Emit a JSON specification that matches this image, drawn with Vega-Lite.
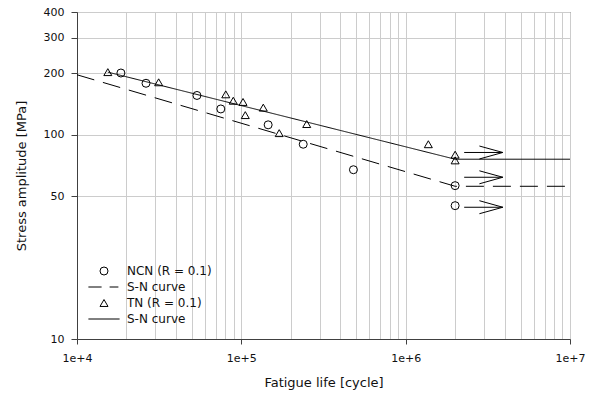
{
  "$schema": "https://vega.github.io/schema/vega-lite/v6.json",
  "width": 493,
  "height": 327,
  "autosize": "none",
  "padding": {"left": 77, "top": 12, "right": 24, "bottom": 60},
  "background": "white",
  "config": {
    "font": "DejaVu Sans",
    "view": {"stroke": "#404040", "strokeWidth": 1},
    "axis": {
      "labelFont": "DejaVu Sans", "labelFontSize": 11, "labelColor": "#111111",
      "titleFont": "DejaVu Sans", "titleFontSize": 13, "titleFontWeight": "normal", "titleColor": "#111111",
      "domainColor": "#404040", "tickColor": "#404040",
      "gridColor": "#cccccc", "gridOpacity": 1, "gridWidth": 1,
      "labelFlush": false, "labelOverlap": false
    }
  },
  "datasets": {
    "points": [
      {"series": "NCN (R = 0.1)", "x": 18500, "y": 201},
      {"series": "NCN (R = 0.1)", "x": 26300, "y": 179},
      {"series": "NCN (R = 0.1)", "x": 53700, "y": 156},
      {"series": "NCN (R = 0.1)", "x": 75000, "y": 134},
      {"series": "NCN (R = 0.1)", "x": 145600, "y": 112},
      {"series": "NCN (R = 0.1)", "x": 238000, "y": 90},
      {"series": "NCN (R = 0.1)", "x": 481000, "y": 67.5},
      {"series": "NCN (R = 0.1)", "x": 2000000, "y": 56.4},
      {"series": "NCN (R = 0.1)", "x": 2000000, "y": 45},
      {"series": "TN (R = 0.1)", "x": 15400, "y": 203},
      {"series": "TN (R = 0.1)", "x": 31400, "y": 181},
      {"series": "TN (R = 0.1)", "x": 80400, "y": 158},
      {"series": "TN (R = 0.1)", "x": 89300, "y": 147},
      {"series": "TN (R = 0.1)", "x": 102400, "y": 145},
      {"series": "TN (R = 0.1)", "x": 105700, "y": 125},
      {"series": "TN (R = 0.1)", "x": 136000, "y": 136},
      {"series": "TN (R = 0.1)", "x": 170000, "y": 102},
      {"series": "TN (R = 0.1)", "x": 250000, "y": 113},
      {"series": "TN (R = 0.1)", "x": 1374000, "y": 90},
      {"series": "TN (R = 0.1)", "x": 2000000, "y": 80},
      {"series": "TN (R = 0.1)", "x": 2000000, "y": 75}
    ],
    "curves": [
      {"curve": "NCN", "x": 10000, "y": 197},
      {"curve": "NCN", "x": 2000000, "y": 56},
      {"curve": "NCN", "x": 10000000, "y": 56},
      {"curve": "TN", "x": 15400, "y": 203},
      {"curve": "TN", "x": 2000000, "y": 76},
      {"curve": "TN", "x": 10000000, "y": 76}
    ],
    "arrows": [
      {"x": 2270000, "y": 82, "x2": 3900000, "y2": 82},
      {"x": 2810000, "y": 88.2, "x2": 3900000, "y2": 82},
      {"x": 2810000, "y": 76.2, "x2": 3900000, "y2": 82},
      {"x": 2270000, "y": 62, "x2": 3900000, "y2": 62},
      {"x": 2810000, "y": 66.7, "x2": 3900000, "y2": 62},
      {"x": 2810000, "y": 57.6, "x2": 3900000, "y2": 62},
      {"x": 2270000, "y": 44.2, "x2": 3900000, "y2": 44.2},
      {"x": 2810000, "y": 47.6, "x2": 3900000, "y2": 44.2},
      {"x": 2810000, "y": 41.1, "x2": 3900000, "y2": 44.2}
    ]
  },
  "encoding": {
    "x": {
      "field": "x", "type": "quantitative",
      "scale": {"type": "log", "domain": [10000, 10000000], "nice": false},
      "axis": {
        "title": "Fatigue life [cycle]",
        "values": [10000, 20000, 30000, 40000, 50000, 60000, 70000, 80000, 90000, 100000, 200000, 300000, 400000, 500000, 600000, 700000, 800000, 900000, 1000000, 2000000, 3000000, 4000000, 5000000, 6000000, 7000000, 8000000, 9000000, 10000000],
        "labelExpr": "datum.value == 10000 ? '1e+4' : datum.value == 100000 ? '1e+5' : datum.value == 1000000 ? '1e+6' : datum.value == 10000000 ? '1e+7' : ''",
        "tickOpacity": {"condition": {"test": "datum.value == 10000 || datum.value == 100000 || datum.value == 1000000 || datum.value == 10000000", "value": 1}, "value": 0},
        "grid": true, "tickSize": 5, "labelPadding": 8, "titlePadding": 13
      }
    },
    "y": {
      "field": "y", "type": "quantitative",
      "scale": {"type": "log", "domain": [10, 400], "nice": false},
      "axis": {
        "title": "Stress amplitude [MPa]",
        "values": [10, 50, 100, 200, 300, 400],
        "grid": true, "tickSize": 6, "labelPadding": 7, "titlePadding": 15
      }
    }
  },
  "layer": [
    {
      "data": {"name": "curves"},
      "mark": {"type": "line", "color": "black", "strokeWidth": 1},
      "encoding": {
        "strokeDash": {"field": "curve", "type": "nominal", "scale": {"domain": ["NCN", "TN"], "range": [[18, 9], [1, 0]]}, "legend": null}
      }
    },
    {
      "data": {"name": "points"},
      "mark": {"type": "point", "filled": false, "color": "black", "size": 64, "strokeWidth": 1, "opacity": 1},
      "encoding": {
        "shape": {
          "field": "series", "type": "nominal",
          "scale": {
            "domain": ["NCN (R = 0.1)", "S-N curve (NCN)", "TN (R = 0.1)", "S-N curve (TN)"],
            "range": ["circle", "M-3.9,0L-0.6,0M1.4,0L3.6,0", "triangle-up", "M-3.9,0L3.9,0"]
          },
          "legend": {
            "orient": "none", "legendX": 21, "legendY": 253, "title": null, "padding": 0,
            "labelFont": "DejaVu Sans", "labelFontSize": 12, "labelColor": "#111111",
            "labelOffset": 17, "rowPadding": 4, "symbolSize": 64,
            "symbolStrokeColor": "black", "symbolStrokeWidth": 1, "symbolFillColor": "transparent",
            "labelExpr": "indexof(datum.label, 'S-N') == 0 ? 'S-N curve' : datum.label"
          }
        }
      }
    },
    {
      "data": {"name": "arrows"},
      "mark": {"type": "rule", "color": "black", "strokeWidth": 1},
      "encoding": {
        "x2": {"field": "x2"},
        "y2": {"field": "y2"}
      }
    }
  ]
}
